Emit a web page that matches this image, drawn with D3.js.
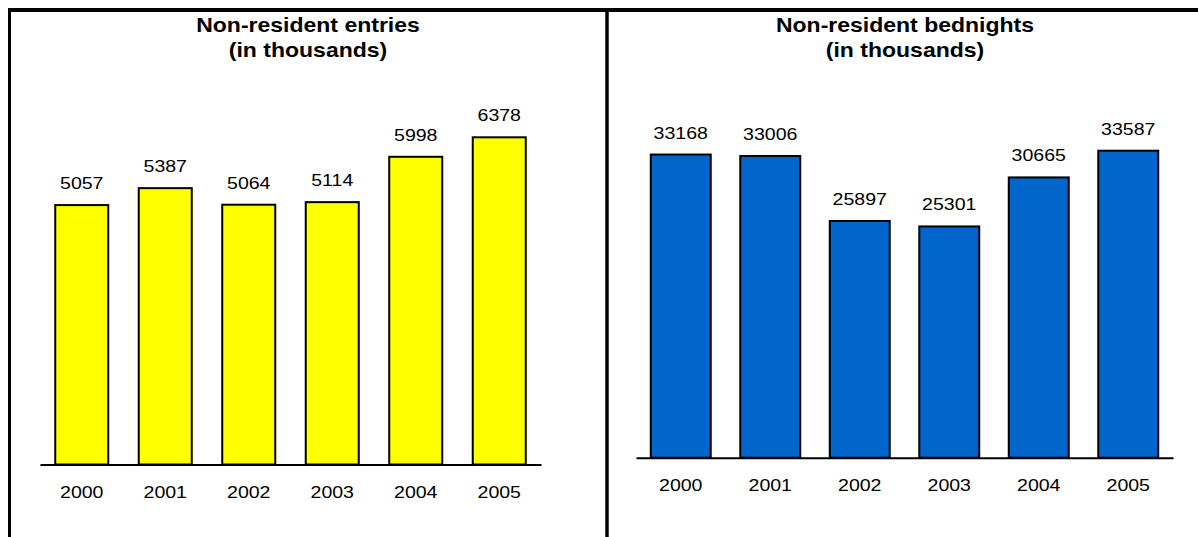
<!DOCTYPE html>
<html>
<head>
<meta charset="utf-8">
<script src="https://cdn.jsdelivr.net/npm/d3@7"></script>
<style>
  body { margin: 0; background: #fff; }
  svg text { font-family: "Liberation Sans", Arial, sans-serif; fill: #000; }
</style>
</head>
<body>
<div id="chart"></div>
<script>
// data
const years = ['2000', '2001', '2002', '2003', '2004', '2005'];
const entries = [5057, 5387, 5064, 5114, 5998, 6378];
const bednights = [33168, 33006, 25897, 25301, 30665, 33587];

const W = 1198, H = 537;
const stretch = 1.15; // the source image is a bit wide

const svg = d3.select('#chart')
  .append('svg')
  .attr('width', W)
  .attr('height', H);

// frame: top rule, left rule and the divider between the two panels
svg.append('line').attr('x1', 8).attr('x2', W).attr('y1', 10).attr('y2', 10)
  .attr('stroke', '#000').attr('stroke-width', 4);
svg.append('line').attr('x1', 9.5).attr('x2', 9.5).attr('y1', 8).attr('y2', H)
  .attr('stroke', '#000').attr('stroke-width', 3);
svg.append('line').attr('x1', 607).attr('x2', 607).attr('y1', 8).attr('y2', H)
  .attr('stroke', '#000').attr('stroke-width', 3.5);

function drawPanel(opts) {
  const g = svg.append('g');

  // title, two lines
  const title = g.append('text')
    .attr('transform', 'translate(' + opts.titleX + ',0) scale(' + stretch + ',1)')
    .attr('text-anchor', 'middle')
    .style('font-size', '20px')
    .style('font-weight', 'bold');
  title.selectAll('tspan')
    .data(opts.title)
    .enter()
    .append('tspan')
    .attr('x', 0)
    .attr('y', (d, i) => 32.5 + i * 25)
    .text(d => d);

  const x = d3.scaleBand()
    .domain(years)
    .range(opts.xRange)
    .paddingInner(opts.pad)
    .paddingOuter(opts.pad / 2);

  const y = d3.scaleLinear()
    .domain([0, opts.yMax])
    .range([opts.base, opts.base - opts.pxPerUnit * opts.yMax]);

  g.selectAll('rect.bar')
    .data(opts.values)
    .enter()
    .append('rect')
    .attr('class', 'bar')
    .attr('x', (d, i) => x(years[i]))
    .attr('y', d => y(d))
    .attr('width', x.bandwidth())
    .attr('height', d => y(0) - y(d))
    .attr('fill', opts.color)
    .attr('stroke', '#000')
    .attr('stroke-width', 2);

  g.selectAll('text.val')
    .data(opts.values)
    .enter()
    .append('text')
    .attr('class', 'val')
    .attr('text-anchor', 'middle')
    .attr('transform', (d, i) => 'translate(' + (x(years[i]) + x.bandwidth() / 2) + ',' + (y(d) - 16) + ') scale(' + stretch + ',1)')
    .style('font-size', '17px')
    .text(d => d);

  // baseline + year labels
  const axis = g.append('g')
    .attr('transform', 'translate(0,' + opts.base + ')')
    .call(d3.axisBottom(x).tickSize(0).tickSizeOuter(0).tickPadding(21.5));
  axis.select('.domain').attr('stroke', '#000').attr('stroke-width', 2);
  axis.selectAll('.tick text')
    .attr('transform', 'scale(' + stretch + ',1)')
    .style('font-size', '17px')
    .style('font-family', '"Liberation Sans", Arial, sans-serif')
    .attr('fill', '#000');
}

drawPanel({
  title: ['Non-resident entries', '(in thousands)'],
  titleX: 308,
  values: entries,
  color: '#ffff00',
  xRange: [40, 541],
  pad: 0.365,
  base: 464.5,
  pxPerUnit: 0.0513,
  yMax: 7000
});

drawPanel({
  title: ['Non-resident bednights', '(in thousands)'],
  titleX: 905,
  values: bednights,
  color: '#0066cc',
  xRange: [636, 1173],
  pad: 0.33,
  base: 457.7,
  pxPerUnit: 0.00914,
  yMax: 40000
});
</script>
</body>
</html>
